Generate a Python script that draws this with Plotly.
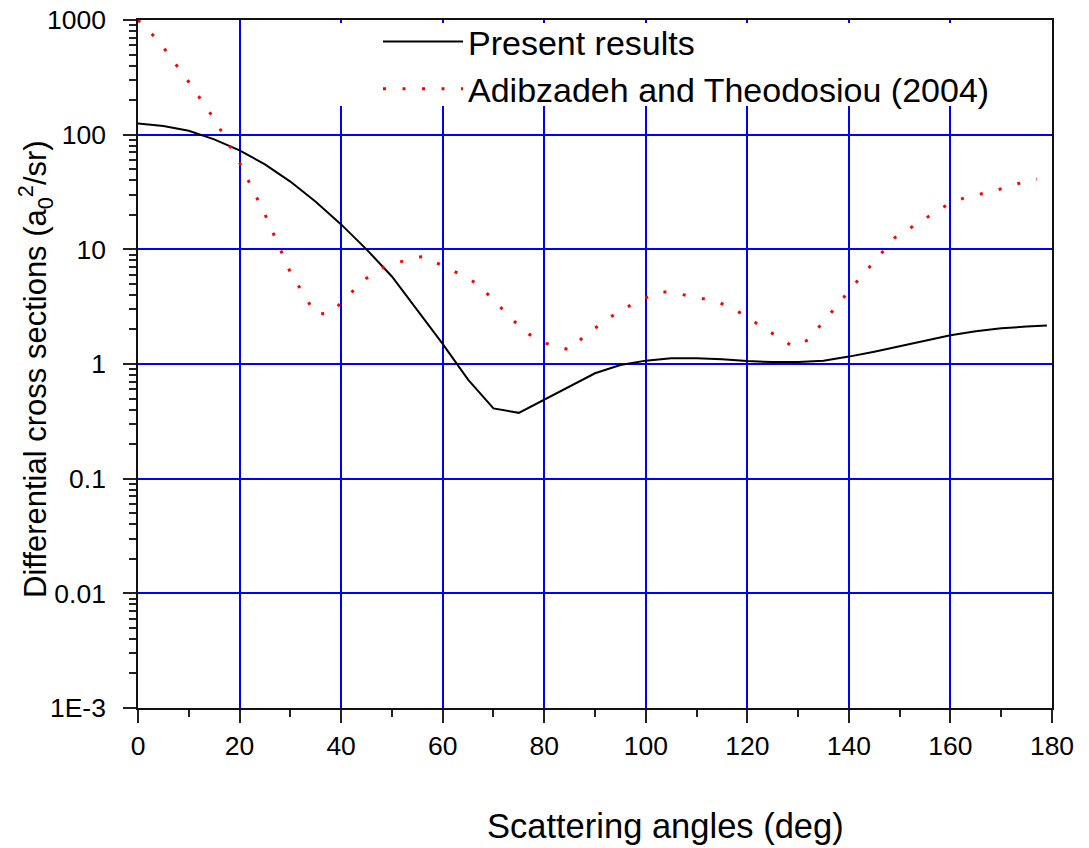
import plotly.graph_objects as go

# ---------------- data ----------------
angles_present = [0, 5, 10, 15, 20, 25, 30, 35, 40, 45, 50, 55, 60, 65, 70, 75, 80, 85, 90,
                  95, 100, 105, 110, 115, 120, 125, 130, 135, 140, 145, 150, 155, 160, 165,
                  170, 175, 179]
dcs_present = [125, 119, 108, 91, 73, 55, 39, 26, 16.5, 10, 5.8, 2.95, 1.5, 0.73, 0.41, 0.375,
               0.49, 0.64, 0.83, 0.98, 1.07, 1.12, 1.12, 1.10, 1.06, 1.04, 1.04, 1.07, 1.16,
               1.28, 1.43, 1.60, 1.78, 1.93, 2.05, 2.12, 2.17]

angles_ref = [0, 4, 10, 15, 20, 25, 30, 35, 38, 42, 45, 49, 52, 56, 60, 64, 67, 70, 74, 77,
              81, 85, 88, 92, 95, 99, 103, 107, 110, 114, 118, 121, 125, 129, 132, 135, 138,
              140, 143, 146, 149, 153, 157, 160, 164, 168, 172, 177]
dcs_ref = [1000, 662, 288, 137, 57, 20.2, 6.3, 2.72, 2.78, 4.2, 5.6, 7.25, 7.85, 8.67, 7.2,
           5.9, 4.94, 3.6, 2.38, 1.82, 1.47, 1.33, 1.77, 2.38, 2.93, 3.6, 4.3, 4.05, 3.82,
           3.52, 2.9, 2.4, 1.84, 1.42, 1.62, 2.35, 3.35, 4.35, 6.25, 8.8, 12.6, 16.2, 20.9,
           25.5, 29.3, 31.6, 36.2, 41]

x_tickvals = [0, 20, 40, 60, 80, 100, 120, 140, 160, 180]
x_minorvals = [10, 30, 50, 70, 90, 110, 130, 150, 170]
y_tickvals = [1e-3, 1e-2, 0.1, 1, 10, 100, 1000]
y_ticktext = ["1E-3", "0.01", "0.1", "1", "10", "100", "1000"]
y_minorvals = [m * 10.0 ** e for e in range(-3, 3) for m in range(2, 10)]

series_names = ["Present results", "Adibzadeh and Theodosiou (2004)"]
x_title = "Scattering angles (deg)"
y_title = "Differential cross sections (a<sub>0</sub><sup>2</sup>/sr)"

# ---------------- figure ----------------
W, H = 1089, 848
L, R, T, B = 138, 1052, 20, 708
FONT = "Arial, Liberation Sans, sans-serif"

fig = go.Figure()
fig.add_trace(go.Scatter(x=angles_present, y=dcs_present, mode="lines",
                         name=series_names[0],
                         line=dict(color="black", width=2)))
fig.add_trace(go.Scatter(x=angles_ref, y=dcs_ref, mode="lines",
                         name=series_names[1],
                         line=dict(color="red", width=3, dash="3px,16.5px")))


def px_x(p):
    return (p - L) / (R - L)


def px_y(p):
    return (B - p) / (B - T)


axis_common = dict(
    ticks="outside", ticklen=13, tickwidth=1.5, tickcolor="#222",
    showline=True, linecolor="#111", linewidth=1.5, mirror=True,
    showgrid=True, gridcolor="#0000ff", gridwidth=2,
    zeroline=False, automargin=False,
    tickfont=dict(family=FONT, size=26.5, color="black"),
)

fig.update_layout(
    width=W, height=H,
    margin=dict(l=L, r=W - R, t=T, b=H - B, pad=0, autoexpand=False),
    plot_bgcolor="white", paper_bgcolor="white",
    font=dict(family=FONT, size=27, color="black"),
    showlegend=True,
    legend=dict(x=px_x(378), y=px_y(13), xanchor="left", yanchor="top",
                bgcolor="rgba(0,0,0,0)", borderwidth=0,
                font=dict(family=FONT, size=34, color="black"),
                itemwidth=80, tracegroupgap=0),
    xaxis=dict(range=[0, 180], tickmode="array", tickvals=x_tickvals,
               minor=dict(tickmode="array", tickvals=x_minorvals,
                          ticks="outside", ticklen=7, tickwidth=1.5, tickcolor="#222",
                          showgrid=False),
               **axis_common),
    yaxis=dict(type="log", range=[-3, 3], tickmode="array", tickvals=y_tickvals,
               ticktext=y_ticktext, ticklabelstandoff=12,
               minor=dict(tickmode="array", tickvals=y_minorvals,
                          ticks="outside", ticklen=7, tickwidth=1.5, tickcolor="#222",
                          showgrid=False),
               **axis_common),
)

# white panel behind the legend that hides the grid (no data lies in this area)
fig.add_shape(type="rect", xref="paper", yref="paper",
              x0=px_x(300), x1=px_x(1050), y0=px_y(106), y1=px_y(23),
              fillcolor="white", line=dict(width=0), layer="above")

fig.add_annotation(text=x_title, xref="paper", yref="paper",
                   x=px_x(665), y=px_y(826), xanchor="center", yanchor="middle",
                   showarrow=False, font=dict(family=FONT, size=34.5, color="black"))
fig.add_annotation(text=y_title, xref="paper", yref="paper", textangle=-90,
                   x=px_x(35), y=px_y(369), xanchor="center", yanchor="middle",
                   showarrow=False, font=dict(family=FONT, size=31, color="black"))

fig.write_html("out.html")
